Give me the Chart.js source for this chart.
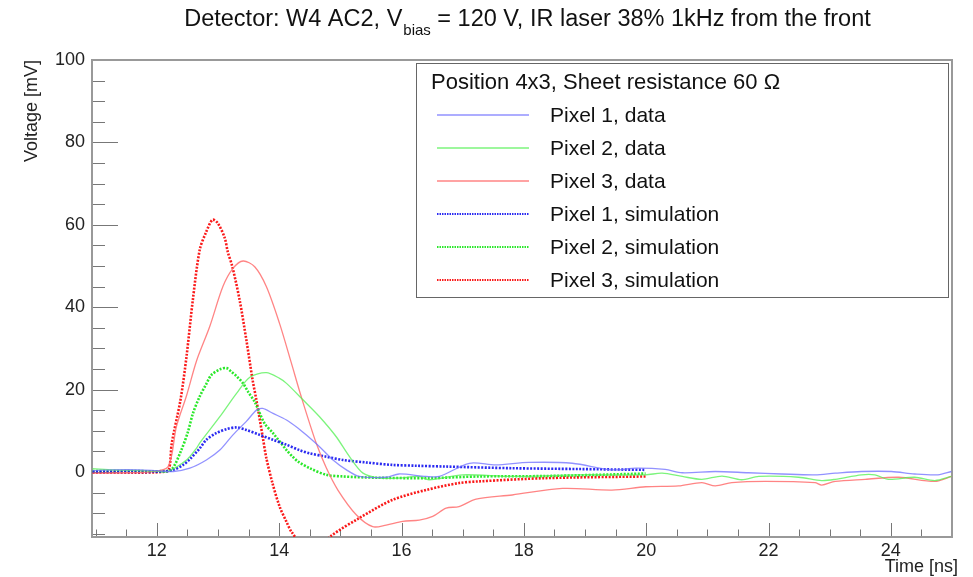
<!DOCTYPE html>
<html>
<head>
<meta charset="utf-8">
<script src="https://cdn.jsdelivr.net/npm/chart.js@4.4.1/dist/chart.umd.min.js"></script>
<style>
  html, body { margin: 0; padding: 0; background: #fff; }
</style>
</head>
<body>
<canvas id="myChart" width="973" height="577"></canvas>
<script>
// tick labels
const xTicks = [12, 14, 16, 18, 20, 22, 24];
const yTicks = [0, 20, 40, 60, 80, 100];

// Pixel 1, data (blue)
const p1DataT = [10.95, 11.3, 11.72, 12.0, 12.27, 12.54, 12.81, 13.03, 13.245, 13.46, 13.63, 13.73, 13.9, 14.12, 14.31, 14.44, 14.66, 14.88, 15.1, 15.31, 15.75, 15.96, 16.4, 16.62, 17.11, 17.54, 18.08, 18.79, 19.44, 19.83, 20.31, 20.59, 21.13, 21.67, 22.22, 22.76, 23.09, 23.52, 24.01, 24.39, 24.77, 24.99];
const p1DataV = [0.3, 0.5, 0.5, 0.3, 0.1, 0.9, 2.9, 5.3, 9, 12.2, 15, 15.4, 14.2, 12.6, 10.6, 9, 6.1, 2.9, 0.5, -1.1, -1.3, -0.5, -1.1, -1.1, 2.1, 1.7, 2.3, 2.1, 0.5, 0.9, 0.6, -0.2, 0.1, -0.2, -0.5, -0.7, -0.3, 0.1, 0.1, -0.5, -0.7, 0.1];

// Pixel 2, data (green)
const p2DataT = [10.95, 11.3, 11.7, 12.0, 12.16, 12.485, 12.65, 12.7, 13.03, 13.3, 13.52, 13.79, 14.007, 14.12, 14.39, 14.66, 14.93, 15.15, 15.37, 15.64, 15.96, 16.29, 16.45, 17.0, 17.81, 18.9, 19.99, 20.26, 20.59, 20.91, 21.24, 21.56, 21.84, 22.49, 22.87, 23.09, 23.52, 23.74, 23.96, 24.39, 24.72, 24.99];
const p2DataV = [0.8, 0.5, 0.3, 0.2, 0, 2.9, 5.8, 7, 13.4, 19, 23, 24.1, 22.7, 21.5, 17.5, 13.4, 8.6, 3.7, -0.3, -1.5, -1.5, -1.1, -1.9, -0.7, -1.1, -0.7, -0.7, -0.3, -1.1, -1.8, -1.0, -1.9, -1.1, -1.3, -2.1, -1.8, -0.7, -0.7, -1.8, -1.3, -2.1, -1.1];

// Pixel 3, data (red)
const p3DataT = [10.95, 11.5, 11.9, 12.185, 12.32, 12.485, 12.65, 12.865, 13.08, 13.245, 13.41, 13.6, 13.79, 14.007, 14.2, 14.36, 14.605, 14.77, 14.96, 15.26, 15.53, 15.75, 16.02, 16.29, 16.51, 16.73, 16.94, 17.22, 17.81, 18.63, 19.44, 19.99, 20.53, 20.91, 21.13, 21.4, 21.95, 22.76, 22.87, 23.09, 23.58, 24.13, 24.72, 24.99];
const p3DataV = [-0.3, -0.2, 0, 1.3, 11, 18.5, 27, 35.3, 45, 49.4, 51.2, 49.8, 45, 36, 26.4, 18.3, 7, 1, -4.4, -10.4, -13.3, -12.9, -12, -11.7, -10.8, -8.8, -8.4, -6.6, -5.6, -4, -4.4, -3.6, -3.4, -2.6, -3.4, -2.6, -2.3, -2.6, -3.2, -2.3, -1.8, -1.3, -2.3, -1.1];

// Pixel 1, simulation (blue)
const p1SimT = [10.95, 11.6, 12.1, 12.27, 12.43, 12.54, 12.7, 12.81, 12.97, 13.14, 13.3, 13.46, 13.68, 13.9, 14.12, 14.33, 14.5, 14.77, 15.04, 15.42, 15.85, 16.24, 16.73, 17.81, 18.9, 19.99];
const p1SimV = [0, 0, 0.1, 0.5, 1.7, 3.1, 5.7, 7.8, 9.4, 10.4, 10.8, 10.2, 9, 7.8, 6.6, 5.3, 4.5, 3.7, 2.9, 2.3, 1.7, 1.5, 1.3, 0.9, 0.7, 0.5];

// Pixel 2, simulation (green)
const p2SimT = [10.95, 11.6, 12.1, 12.24, 12.4, 12.51, 12.59, 12.7, 12.81, 12.89, 13.03, 13.14, 13.22, 13.3, 13.41, 13.49, 13.6, 13.76, 13.9, 14.12, 14.22, 14.31, 14.5, 14.77, 15.04, 15.58, 16.45, 17.27, 18.36, 19.99];
const p2SimV = [0.2, 0.2, 0.2, 0.5, 5.3, 9.8, 14.2, 18.3, 21.4, 23.5, 24.9, 25.2, 24.3, 23.3, 21.5, 19.5, 17, 11.8, 9.4, 5.3, 3.7, 2.5, 0.9, -0.7, -1.1, -1.4, -1.5, -1.1, -1.0, -0.4];

// Pixel 3, simulation (red)
const p3SimT = [10.95, 11.6, 12.1, 12.196, 12.245, 12.387, 12.485, 12.588, 12.702, 12.8, 12.909, 12.996, 13.11, 13.16, 13.235, 13.354, 13.464, 13.566, 13.627, 13.73, 13.79, 13.89, 14.007, 14.116, 14.2, 14.45, 14.65, 14.85, 15.31, 15.85, 16.4, 16.94, 17.27, 18.36, 19.99];
const p3SimV = [-0.2, -0.2, 0, 0.5, 7, 17.5, 28, 41.7, 54, 58, 61.2, 60.4, 56.8, 53.4, 49.8, 41.7, 32, 22.3, 17.5, 8.6, 3.4, -2.7, -8.4, -12, -14.5, -19, -18.5, -15.5, -11.2, -6.8, -4.4, -2.7, -2.3, -1.5, -1.1];

const seriesNames = ['Pixel 1, data', 'Pixel 2, data', 'Pixel 3, data', 'Pixel 1, simulation', 'Pixel 2, simulation', 'Pixel 3, simulation'];

function pts(ts, vs) {
  return ts.map((t, i) => ({x: t, y: vs[i]}));
}

const FONT = '"Liberation Sans", Arial, Helvetica, sans-serif';

function dataSet(label, ts, vs, color) {
  return {label: label, data: pts(ts, vs), borderColor: color, backgroundColor: color,
    borderWidth: 1.3, pointRadius: 0, showLine: true, tension: 0.3, kind: 'data'};
}
function simSet(label, ts, vs, color) {
  return {label: label, data: pts(ts, vs), borderColor: color, backgroundColor: color,
    borderWidth: 2.6, borderDash: [2, 1.5], pointRadius: 0, showLine: true, tension: 0.3, kind: 'sim'};
}

// frame, inside ticks, title and legend box (ROOT style)
const rootStyle = {
  id: 'rootStyle',
  beforeDatasetsDraw(chart) {
    const ctx = chart.ctx, a = chart.chartArea;
    const xs = chart.scales.x, ys = chart.scales.y;
    ctx.save();
    ctx.strokeStyle = '#777';
    ctx.lineWidth = 1;
    ctx.beginPath();
    for (let v = 11; v <= 25; v += 0.5) {
      const px = Math.round(xs.getPixelForValue(v)) + 0.5;
      const len = xTicks.includes(v) ? 14 : 7.5;
      ctx.moveTo(px, a.bottom);
      ctx.lineTo(px, a.bottom - len);
    }
    for (let v = -15; v <= 100; v += 5) {
      const py = Math.round(ys.getPixelForValue(v)) + 0.5;
      const len = yTicks.includes(v) ? 26 : 13;
      ctx.moveTo(a.left, py);
      ctx.lineTo(a.left + len, py);
    }
    ctx.stroke();
    ctx.strokeStyle = '#999';
    ctx.lineWidth = 2;
    ctx.strokeRect(a.left, a.top, a.right - a.left, a.bottom - a.top);
    ctx.restore();
  },
  afterDraw(chart) {
    const ctx = chart.ctx;
    ctx.save();
    // title with subscript
    const p1 = 'Detector: W4 AC2, V', sub = 'bias', p3 = ' = 120 V, IR laser 38% 1kHz from the front';
    ctx.fillStyle = '#111';
    ctx.textBaseline = 'middle';
    ctx.textAlign = 'left';
    ctx.font = '23.5px ' + FONT;
    const w1 = ctx.measureText(p1).width, w3 = ctx.measureText(p3).width;
    ctx.font = '15px ' + FONT;
    const w2 = ctx.measureText(sub).width;
    let x0 = 527 - (w1 + w2 + w3) / 2;
    ctx.font = '23.5px ' + FONT;
    ctx.fillText(p1, x0, 20);
    ctx.font = '15px ' + FONT;
    ctx.fillText(sub, x0 + w1 + 1, 31);
    ctx.font = '23.5px ' + FONT;
    ctx.fillText(p3, x0 + w1 + w2 + 1, 20);

    // x axis title, right aligned past the frame like ROOT
    ctx.font = '18px ' + FONT;
    ctx.fillStyle = '#222';
    ctx.textAlign = 'right';
    ctx.fillText('Time [ns]', 958, 567);
    ctx.textAlign = 'left';

    // legend box
    const bx = 416.5, by = 63.5, bw = 532, bh = 234;
    ctx.fillStyle = '#fff';
    ctx.fillRect(bx, by, bw, bh);
    ctx.strokeStyle = '#666';
    ctx.lineWidth = 1;
    ctx.strokeRect(bx, by, bw, bh);
    ctx.fillStyle = '#111';
    ctx.font = '22px ' + FONT;
    ctx.fillText('Position 4x3, Sheet resistance 60 \u03A9', 431, 83);
    ctx.font = '21px ' + FONT;
    chart.data.datasets.forEach((ds, i) => {
      const y = 115 + i * 33;
      ctx.save();
      ctx.strokeStyle = ds.borderColor;
      if (ds.kind === 'sim') {
        ctx.lineWidth = 2;
        ctx.setLineDash([1.5, 1]);
      } else {
        ctx.lineWidth = 1.5;
      }
      ctx.beginPath();
      ctx.moveTo(437, y);
      ctx.lineTo(529, y);
      ctx.stroke();
      ctx.restore();
      ctx.fillStyle = '#111';
      ctx.fillText(ds.label, 550, y + 1);
    });
    ctx.restore();
  }
};

const myChart = document.getElementById('myChart');

let chart = new Chart(myChart, {
  type: 'scatter',
  data: {
    datasets: [
      dataSet(seriesNames[0], p1DataT, p1DataV, 'rgba(110,110,255,0.75)'),
      dataSet(seriesNames[1], p2DataT, p2DataV, 'rgba(80,240,80,0.75)'),
      dataSet(seriesNames[2], p3DataT, p3DataV, 'rgba(255,110,110,0.85)'),
      simSet(seriesNames[3], p1SimT, p1SimV, 'rgba(20,20,240,0.9)'),
      simSet(seriesNames[4], p2SimT, p2SimV, 'rgba(20,230,20,0.9)'),
      simSet(seriesNames[5], p3SimT, p3SimV, 'rgba(250,0,0,0.9)')
    ]
  },
  options: {
    responsive: false,
    devicePixelRatio: 1,
    animation: false,
    layout: {padding: {top: 60, right: 21, left: 0, bottom: 0}},
    plugins: {
      legend: {display: false},
      title: {display: false},
      tooltip: {enabled: false}
    },
    scales: {
      x: {
        type: 'linear',
        min: 10.94,
        max: 25,
        afterFit: s => { s.height = 40; },
        afterBuildTicks: s => { s.ticks = xTicks.map(v => ({value: v})); },
        grid: {display: false, drawTicks: false},
        border: {display: false},
        ticks: {padding: 3, color: '#222', font: {size: 18, family: FONT}, maxRotation: 0, autoSkip: false}
      },
      y: {
        min: -15.8,
        max: 100,
        afterFit: s => { s.width = 92; },
        afterBuildTicks: s => { s.ticks = yTicks.map(v => ({value: v})); },
        grid: {display: false, drawTicks: false},
        border: {display: false},
        ticks: {padding: 7, color: '#222', font: {size: 18, family: FONT}},
        title: {display: true, text: 'Voltage [mV]', align: 'end', color: '#222',
          font: {size: 18, family: FONT}, padding: {top: 21, bottom: 0}}
      }
    }
  },
  plugins: [rootStyle]
});
</script>
</body>
</html>
